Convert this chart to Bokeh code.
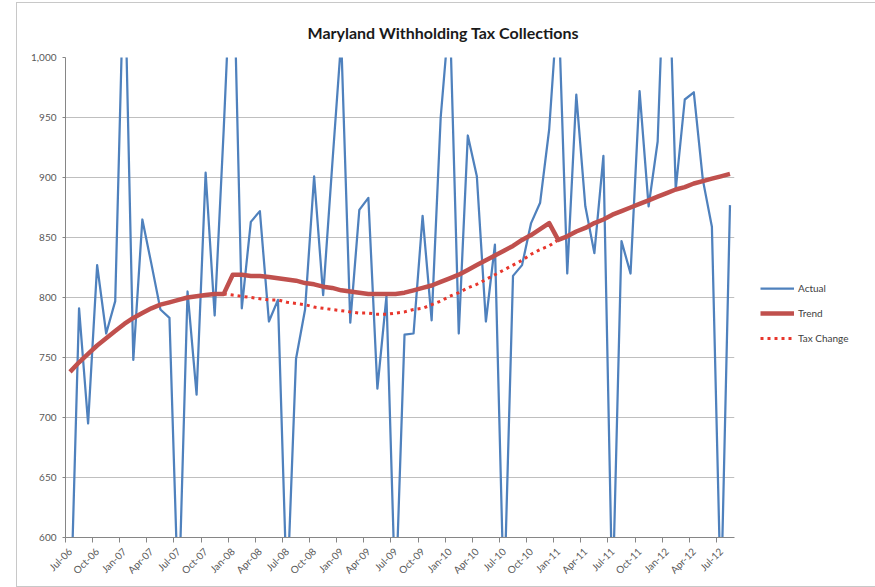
import math
from bokeh.plotting import figure
from bokeh.models import Range1d, FixedTicker, NumeralTickFormatter, Legend, LegendItem, Spacer
from bokeh.layouts import row, column
from bokeh.embed import file_html
from bokeh.resources import INLINE

# ---- data ----
month_names = ["Jan", "Feb", "Mar", "Apr", "May", "Jun",
               "Jul", "Aug", "Sep", "Oct", "Nov", "Dec"]
start_year, start_month, n_months = 2006, 6, 74   # Jul-06 .. Aug-12
months = [f"{month_names[(start_month + i) % 12]}-{((start_year * 12 + start_month + i) // 12) % 100:02d}"
          for i in range(n_months)]

actual = [
    520, 791, 695, 827, 770, 797,                                # 2006 Jul-Dec
    1090, 748, 865, 828, 790, 783, 540, 805, 719, 904, 785, 940,  # 2007
    1110, 791, 863, 872, 780, 798, 550, 749, 790, 901, 802, 910,  # 2008
    1015, 779, 873, 883, 724, 801, 545, 769, 770, 868, 781, 950,  # 2009
    1040, 770, 935, 901, 780, 844, 545, 818, 827, 862, 879, 940,  # 2010
    1050, 820, 969, 876, 837, 918, 545, 847, 820, 972, 876, 930,  # 2011
    1140, 890, 965, 971, 898, 859, 545, 877,                      # 2012 Jan-Aug
]

trend = [
    738, 746, 753, 760, 766, 772,
    778, 783, 787, 791, 794, 796, 798, 800, 801, 802, 803, 803,
    819, 819, 818, 818, 817, 816, 815, 814, 812, 811, 809, 808,
    806, 805, 804, 803, 803, 803, 803, 804, 806, 808, 810, 813,
    816, 819, 823, 827, 831, 835, 839, 843, 848, 852, 857, 862,
    848, 851, 855, 858, 862, 865, 869, 872, 875, 878, 881, 884,
    887, 890, 892, 895, 897, 899, 901, 903,
]

tax_change_start = "Dec-07"
tax_change = [
    803,
    802, 801, 800, 799, 798, 798, 796, 795, 794, 792, 791, 790,
    789, 788, 787, 787, 786, 786, 787, 788, 790, 791, 794, 797,
    801, 804, 808, 811, 815, 819, 823, 827, 831, 836, 840, 843,
    848,
]

y_ticks = [600, 650, 700, 750, 800, 850, 900, 950, 1000]
label_every = 3

# ---- derived positions ----
x = [i + 0.5 for i in range(n_months)]
t0 = months.index(tax_change_start)
x_tax = [t0 + i + 0.5 for i in range(len(tax_change))]
label_idx = list(range(0, n_months, label_every))

FONT = "Lato"
GREY_TXT = "#595959"
AXIS_COL = "#868686"

p = figure(frame_width=667, frame_height=478,
           x_range=Range1d(0, n_months), y_range=Range1d(600, 1000),
           output_backend="svg", toolbar_location=None,
           min_border_left=48, min_border_right=135,
           min_border_top=54, min_border_bottom=51,
           background_fill_color="white", border_fill_color="white",
           outline_line_color=None,
           styles={"border": "1px solid #c8c8c8"})

p.title.text = "Maryland Withholding Tax Collections"
p.title.align = "left"
p.title.text_font = FONT
p.title.text_font_size = "16px"
p.title.text_font_style = "bold"
p.title.text_color = "#1a1a1a"
p.title.offset = 242
p.title.standoff = 32

# y axis
p.yaxis.ticker = FixedTicker(ticks=y_ticks)
p.yaxis.formatter = NumeralTickFormatter(format="0,0")
p.yaxis.axis_line_color = AXIS_COL
p.yaxis.major_tick_line_color = AXIS_COL
p.yaxis.major_tick_out = 3
p.yaxis.major_tick_in = 0
p.yaxis.minor_tick_line_color = None
p.yaxis.major_label_text_font = FONT
p.yaxis.major_label_text_font_size = "10px"
p.yaxis.major_label_text_color = GREY_TXT
p.yaxis.major_label_standoff = 6

# x axis
p.xaxis.ticker = FixedTicker(ticks=[i + 0.5 for i in label_idx],
                             minor_ticks=[float(i) for i in label_idx])
p.xaxis.major_label_overrides = {i + 0.5: months[i] for i in label_idx}
p.xaxis.major_tick_line_color = None
p.xaxis.major_tick_out = 0
p.xaxis.major_tick_in = 0
p.xaxis.minor_tick_line_color = AXIS_COL
p.xaxis.minor_tick_out = 5
p.xaxis.minor_tick_in = 0
p.xaxis.axis_line_color = AXIS_COL
p.xaxis.major_label_orientation = math.pi / 4
p.xaxis.major_label_text_font = FONT
p.xaxis.major_label_text_font_size = "10px"
p.xaxis.major_label_text_color = GREY_TXT
p.xaxis.major_label_standoff = 7

p.xgrid.grid_line_color = None
p.ygrid.grid_line_color = "#bfbfbf"
p.ygrid.grid_line_width = 1

r_act = p.line(x, actual, line_color="#4F81BD", line_width=2.25, line_join="round")
r_tax = p.line(x_tax, tax_change, line_color="#E8362C", line_width=3, line_dash="3 4")
r_trend = p.line(x, trend, line_color="#C0504D", line_width=4.5, line_join="round")

legend = Legend(items=[LegendItem(label="Actual", renderers=[r_act]),
                       LegendItem(label="Trend", renderers=[r_trend]),
                       LegendItem(label="Tax Change", renderers=[r_tax])],
                location=(26, 193),
                border_line_color=None, background_fill_alpha=0,
                padding=0, margin=0, spacing=13,
                glyph_width=34, glyph_height=12, label_height=12,
                label_standoff=4,
                label_text_font=FONT, label_text_font_size="10px",
                label_text_color="#404040")
p.add_layout(legend, "right")

layout = column(Spacer(width=10, height=2),
                row(Spacer(width=16, height=10), p))

open("out.html", "w").write(file_html(layout, INLINE))
